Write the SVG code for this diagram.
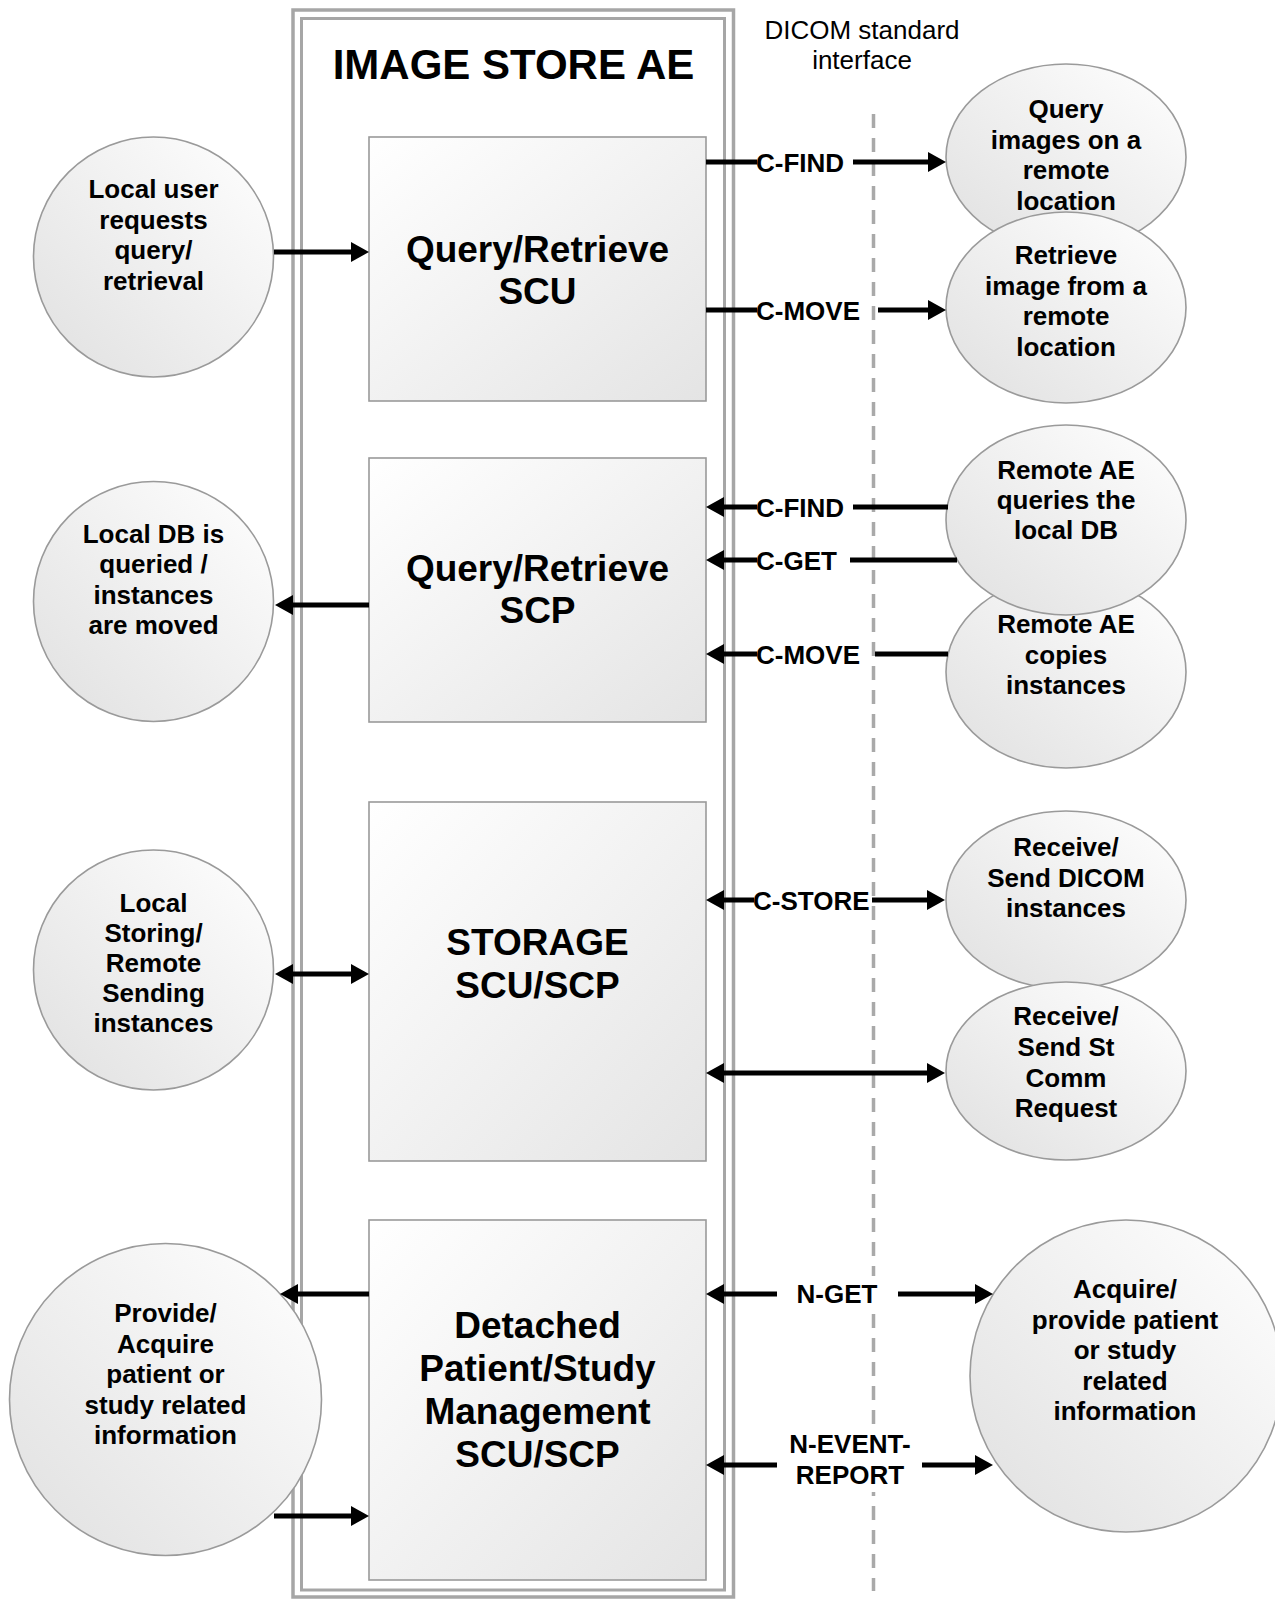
<svg xmlns="http://www.w3.org/2000/svg" width="1275" height="1599" viewBox="0 0 1275 1599">
<style>
  .frame { fill: none; stroke: #a6a6a6; }
  .box { fill: url(#boxGrad); stroke: #9a9a9a; stroke-width: 1.6; }
  .node { fill: url(#circGrad); stroke: #9a9a9a; stroke-width: 1.6; }
  .t { font-family: "Liberation Sans", Arial, sans-serif; font-weight: bold; font-size: 26px; text-anchor: middle; fill: #000; }
  .bt { font-family: "Liberation Sans", Arial, sans-serif; font-weight: bold; font-size: 37px; text-anchor: middle; fill: #000; }
  .title { font-family: "Liberation Sans", Arial, sans-serif; font-weight: bold; font-size: 42px; text-anchor: middle; fill: #000; }
  .note { font-family: "Liberation Sans", Arial, sans-serif; font-size: 26px; text-anchor: middle; fill: #000; }
  .lbl { font-family: "Liberation Sans", Arial, sans-serif; font-weight: bold; font-size: 26px; fill: #000; }
  .lblc { font-family: "Liberation Sans", Arial, sans-serif; font-weight: bold; font-size: 26px; fill: #000; text-anchor: middle; }
  .c { fill: none; stroke: #000; stroke-width: 5; }
  .a { marker-end: url(#arr); }
  .ab { marker-start: url(#arr); marker-end: url(#arr); }
  .bg { fill: #fff; stroke: none; }
</style>
<defs>
  <linearGradient id="boxGrad" x1="0" y1="0" x2="1" y2="1">
    <stop offset="0" stop-color="#ffffff"/>
    <stop offset="1" stop-color="#e4e4e4"/>
  </linearGradient>
  <linearGradient id="circGrad" x1="0" y1="1" x2="1" y2="0">
    <stop offset="0" stop-color="#e0e0e0"/>
    <stop offset="1" stop-color="#ffffff"/>
  </linearGradient>
  <marker id="arr" viewBox="0 0 18 20" refX="3" refY="10" markerWidth="18" markerHeight="20" markerUnits="userSpaceOnUse" orient="auto-start-reverse">
    <path d="M0,0 L18,10 L0,20 z" fill="#000"/>
  </marker>
</defs>
<rect width="1275" height="1599" fill="#fff"/>

<g id="image-store-ae">
  <rect class="frame" x="293" y="10" width="440.5" height="1587" stroke-width="3.5"/>
  <rect class="frame" x="301.5" y="18.5" width="423" height="1571.5" stroke-width="3"/>
  <text class="title" x="513.5" y="79">IMAGE STORE AE</text>
</g>

<g id="dicom-interface">
  <text class="note" x="862" y="38.5">DICOM standard</text>
  <text class="note" x="862" y="68.5">interface</text>
  <line x1="873.5" y1="114" x2="873.5" y2="1591" stroke="#a9a9a9" stroke-width="3.5" stroke-dasharray="14 10"/>
</g>

<g id="qr-scu">
  <rect class="box" x="369" y="137" width="337" height="264"/>
  <text class="bt" x="537.5" y="262">Query/Retrieve</text>
  <text class="bt" x="537.5" y="304">SCU</text>
</g>
<g id="qr-scp">
  <rect class="box" x="369" y="458" width="337" height="264"/>
  <text class="bt" x="537.5" y="581">Query/Retrieve</text>
  <text class="bt" x="537.5" y="623">SCP</text>
</g>
<g id="storage">
  <rect class="box" x="369" y="802" width="337" height="359"/>
  <text class="bt" x="537.5" y="955">STORAGE</text>
  <text class="bt" x="537.5" y="998">SCU/SCP</text>
</g>
<g id="detached">
  <rect class="box" x="369" y="1220" width="337" height="360"/>
  <text class="bt" x="537.5" y="1338">Detached</text>
  <text class="bt" x="537.5" y="1381">Patient/Study</text>
  <text class="bt" x="537.5" y="1424">Management</text>
  <text class="bt" x="537.5" y="1467">SCU/SCP</text>
</g>

<g id="local-user">
  <circle class="node" cx="153.5" cy="257" r="120"/>
  <text class="t" x="153.5" y="198">Local user</text>
  <text class="t" x="153.5" y="228.5">requests</text>
  <text class="t" x="153.5" y="259">query/</text>
  <text class="t" x="153.5" y="289.5">retrieval</text>
</g>
<g id="local-db">
  <circle class="node" cx="153.5" cy="601.5" r="120"/>
  <text class="t" x="153.5" y="543">Local DB is</text>
  <text class="t" x="153.5" y="573">queried /</text>
  <text class="t" x="153.5" y="604">instances</text>
  <text class="t" x="153.5" y="634">are moved</text>
</g>
<g id="local-storing">
  <circle class="node" cx="153.5" cy="970" r="120"/>
  <text class="t" x="153.5" y="912">Local</text>
  <text class="t" x="153.5" y="942">Storing/</text>
  <text class="t" x="153.5" y="972">Remote</text>
  <text class="t" x="153.5" y="1002">Sending</text>
  <text class="t" x="153.5" y="1032">instances</text>
</g>
<g id="provide-acquire">
  <circle class="node" cx="165.5" cy="1399.5" r="156"/>
  <text class="t" x="165.5" y="1322">Provide/</text>
  <text class="t" x="165.5" y="1352.5">Acquire</text>
  <text class="t" x="165.5" y="1383">patient or</text>
  <text class="t" x="165.5" y="1413.5">study related</text>
  <text class="t" x="165.5" y="1444">information</text>
</g>

<g id="query-remote">
  <ellipse class="node" cx="1066" cy="157" rx="120" ry="93"/>
  <text class="t" x="1066" y="118">Query</text>
  <text class="t" x="1066" y="148.5">images on a</text>
  <text class="t" x="1066" y="179">remote</text>
  <text class="t" x="1066" y="209.5">location</text>
</g>
<g id="retrieve-remote">
  <ellipse class="node" cx="1066" cy="307.5" rx="120" ry="95.5"/>
  <text class="t" x="1066" y="264">Retrieve</text>
  <text class="t" x="1066" y="294.5">image from a</text>
  <text class="t" x="1066" y="325">remote</text>
  <text class="t" x="1066" y="355.5">location</text>
</g>
<g id="remote-copies">
  <ellipse class="node" cx="1066" cy="672" rx="120" ry="96"/>
  <text class="t" x="1066" y="633">Remote AE</text>
  <text class="t" x="1066" y="663.5">copies</text>
  <text class="t" x="1066" y="694">instances</text>
</g>
<g id="remote-queries">
  <ellipse class="node" cx="1066" cy="520" rx="120" ry="95"/>
  <text class="t" x="1066" y="479">Remote AE</text>
  <text class="t" x="1066" y="509">queries the</text>
  <text class="t" x="1066" y="539">local DB</text>
</g>
<g id="send-dicom">
  <ellipse class="node" cx="1066" cy="900" rx="120" ry="89"/>
  <text class="t" x="1066" y="856">Receive/</text>
  <text class="t" x="1066" y="886.5">Send DICOM</text>
  <text class="t" x="1066" y="917">instances</text>
</g>
<g id="st-comm">
  <ellipse class="node" cx="1066" cy="1071" rx="120" ry="89"/>
  <text class="t" x="1066" y="1025">Receive/</text>
  <text class="t" x="1066" y="1056">Send St</text>
  <text class="t" x="1066" y="1087">Comm</text>
  <text class="t" x="1066" y="1117">Request</text>
</g>
<g id="acquire-provide">
  <circle class="node" cx="1126" cy="1376" r="156"/>
  <text class="t" x="1125" y="1298">Acquire/</text>
  <text class="t" x="1125" y="1328.5">provide patient</text>
  <text class="t" x="1125" y="1359">or study</text>
  <text class="t" x="1125" y="1389.5">related</text>
  <text class="t" x="1125" y="1420">information</text>
</g>

<g id="connectors">
  <!-- left side -->
  <path class="c a" d="M274,252 H354"/>
  <path class="c a" d="M369,605 H290"/>
  <path class="c ab" d="M290,974 H354"/>
  <path class="c a" d="M369,1294 H295"/>
  <path class="c a" d="M274,1516 H354"/>

  <!-- SCU outgoing -->
  <path class="c" d="M706,162 H757"/>
  <text class="lbl" x="756" y="171.5">C-FIND</text>
  <path class="c a" d="M853,162 H931"/>

  <path class="c" d="M706,310 H757"/>
  <text class="lbl" x="756" y="319.5">C-MOVE</text>
  <path class="c a" d="M878,310 H931"/>

  <!-- SCP incoming -->
  <path class="c a" d="M757,507 H721"/>
  <text class="lbl" x="756" y="516.5">C-FIND</text>
  <path class="c" d="M853,507 H948"/>

  <path class="c a" d="M757,560 H721"/>
  <text class="lbl" x="756" y="569.5">C-GET</text>
  <path class="c" d="M850,560 H957"/>

  <path class="c a" d="M757,654 H721"/>
  <text class="lbl" x="756" y="663.5">C-MOVE</text>
  <path class="c" d="M875,654 H948"/>

  <!-- Storage -->
  <path class="c a" d="M754,900 H721"/>
  <text class="lbl" x="753" y="909.5">C-STORE</text>
  <path class="c a" d="M872,900 H930"/>

  <path class="c ab" d="M721,1073 H930"/>

  <!-- Detached -->
  <path class="c a" d="M777,1294 H721"/>
  <rect class="bg" x="786" y="1276" width="104" height="34"/>
  <text class="lblc" x="837" y="1303">N-GET</text>
  <path class="c a" d="M898,1294 H978"/>

  <path class="c a" d="M777,1465 H721"/>
  <rect class="bg" x="784" y="1428" width="132" height="64"/>
  <text class="lblc" x="850" y="1453">N-EVENT-</text>
  <text class="lblc" x="850" y="1484">REPORT</text>
  <path class="c a" d="M922,1465 H978"/>
</g>
</svg>
